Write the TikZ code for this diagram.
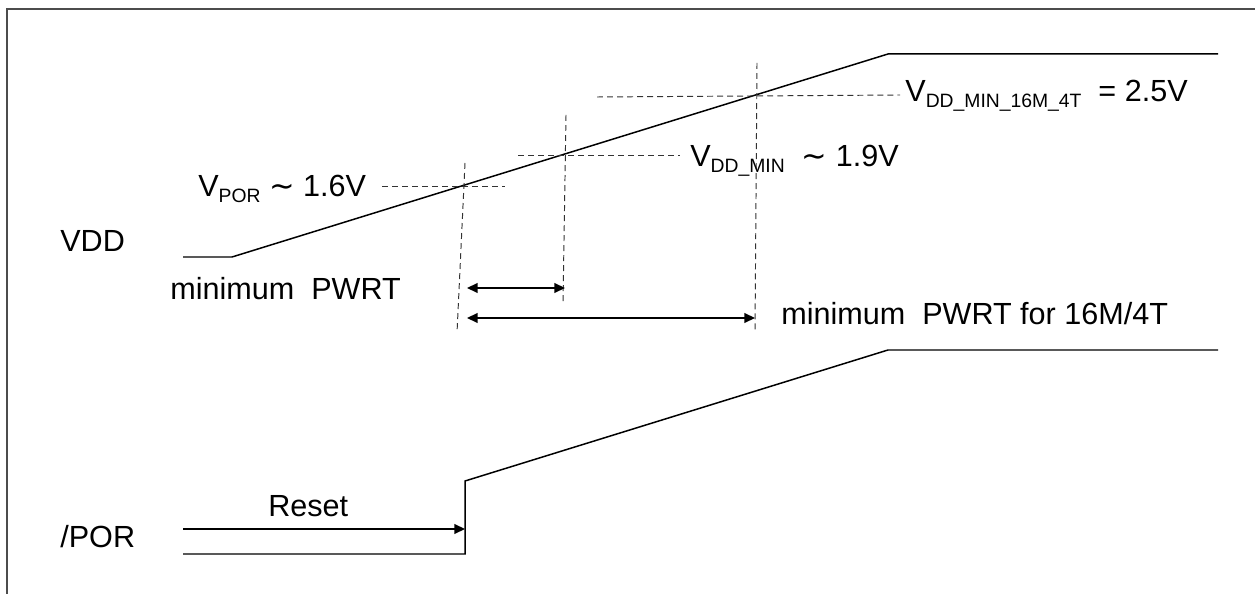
\documentclass[tikz,border=0pt]{standalone}
\usepackage{fontspec}
\setmainfont{Liberation Sans}
\newfontfamily\symfont{DejaVu Sans}
\usepackage{tikz}
\usetikzlibrary{arrows.meta}

% subscript as the picture prints it
\newcommand{\vsub}[1]{\raisebox{-3pt}{\fontsize{11}{13}\selectfont #1}}
\newcommand{\approxsign}{{\symfont ∼}}

\tikzset{
  signal/.style={line width=0.85pt},
  guide/.style={black!80, line width=0.55pt, dash pattern=on 3.4pt off 2.3pt},
  span/.style={line width=0.85pt, {Triangle[length=6pt,width=5.5pt]}-{Triangle[length=6pt,width=5.5pt]}},
  lbl/.style={anchor=base west, inner sep=0pt}
}

\begin{document}
\begin{tikzpicture}[x=0.02cm, y=-0.02cm, every node/.style={font=\fontsize{17.4}{20}\selectfont}]
\useasboundingbox (0,0) rectangle (1255,594);
% frame (top and left edge only)
\draw[gray!60!black, line width=1.1pt] (7,594) -- (7,9) -- (1255,9);
% VDD ramp
\coordinate (vs) at (183,257);
\coordinate (vr) at (232,257);
\coordinate (vt) at (888,54);
\coordinate (ve) at (1218,54);
\draw[signal] (vs) -- (vr) -- (vt) -- (ve);
% /POR step and ramp
\coordinate (ps) at (183,554);
\coordinate (pl) at (465,554);
\coordinate (pu) at (465,481);
\coordinate (pt) at (888,350);
\coordinate (pe) at (1218,350);
\draw[signal] (ps) -- (pl) -- (pu) -- (pt) -- (pe);
% Reset arrow
\coordinate (rs) at (183,529);
\coordinate (re) at (465,529);
\draw[signal, -{Triangle[length=6pt,width=5.5pt]}] (rs) -- (re);
% Threshold guides
\draw[guide] (382,186) -- (505,186);
\draw[guide] (465,163) -- (457,333);
\draw[guide] (518,155) -- (680,155);
\draw[guide] (566,115) -- (563,303);
\draw[guide] (597,97) -- (900,95);
\draw[guide] (757,63) -- (755,333);
% PWRT spans
\coordinate (a1) at (467,288);
\coordinate (b1) at (565,288);
\coordinate (a2) at (467,318);
\coordinate (b2) at (755,318);
\draw[span] (a1) -- (b1);
\draw[span] (a2) -- (b2);
% Labels
\node[lbl] (vdd) at (60,252) {VDD};
\node[lbl] (por) at (60,548) {/POR};
\node[lbl] (reset) at (268,517) {Reset};
\node[lbl] (vpor) at (198,197) {V\vsub{POR} \approxsign{} 1.6V};
\node[lbl] (vmin) at (690,167) {V\vsub{DD\_MIN}\ \ \approxsign{} 1.9V};
\node[lbl] (vmax) at (905,102) {V\vsub{DD\_MIN\_16M\_4T}\ \ = 2.5V};
\node[lbl] (pwrt) at (170,300) {minimum\ \ PWRT};
\node[lbl] (pwrtx) at (781,325) {minimum\ \ PWRT for 16M/4T};
\end{tikzpicture}
\end{document}
